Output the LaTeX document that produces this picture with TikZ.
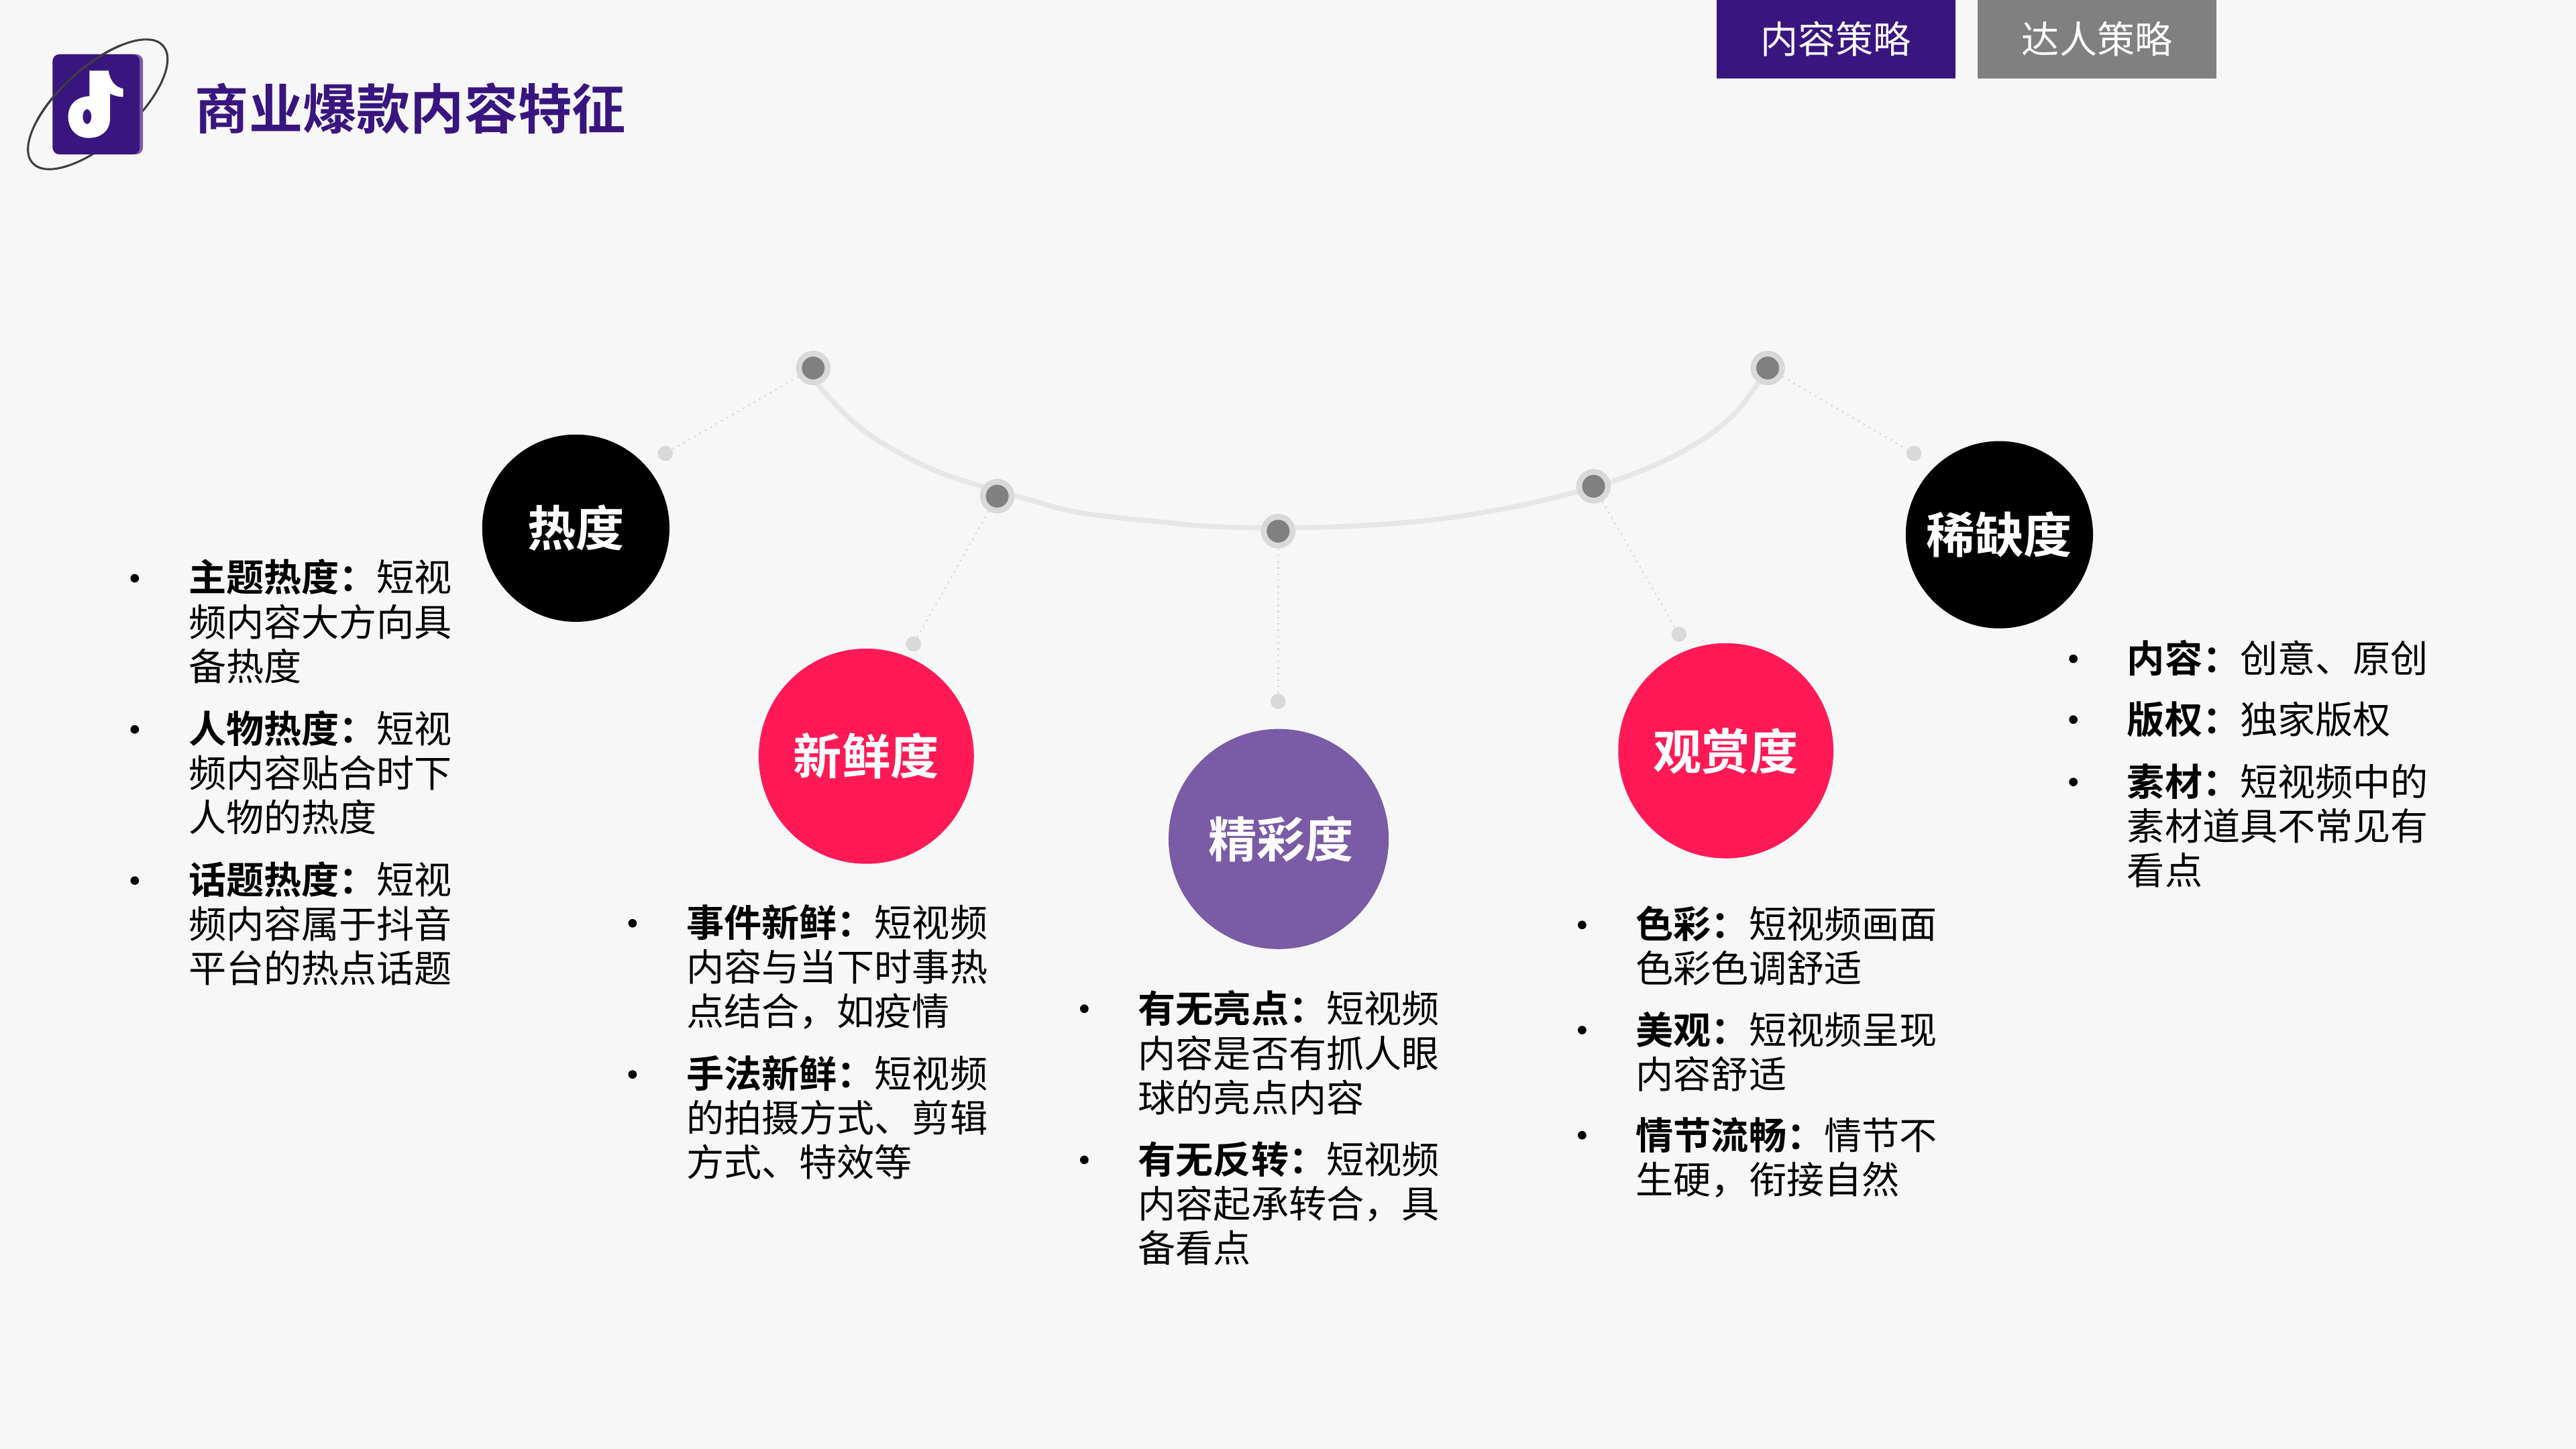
\documentclass[tikz,border=0pt]{standalone}
\usepackage{fontspec}
\setmainfont{Noto Sans CJK SC}[BoldFont=Noto Sans CJK SC Bold]
\usetikzlibrary{shapes.geometric}
\setlength{\lineskiplimit}{-10pt}
\definecolor{paper}{HTML}{F7F7F7}
\definecolor{violet1}{HTML}{39167F}
\definecolor{violet2}{HTML}{7A5BA5}
\definecolor{rose}{HTML}{FF1A55}
\definecolor{ring}{HTML}{D9D9D9}
\definecolor{track}{HTML}{E7E7E7}
\definecolor{core}{HTML}{808080}
\newcommand{\itemhead}[1]{\strut\textbf{#1：}}

\begin{document}
\begin{tikzpicture}[x=0.025cm, y=-0.025cm,
    ball/.style={circle, inner sep=0pt, minimum size=#1*0.025cm, text=white, font=\bfseries\fontsize{21}{25}\selectfont},
    hub/.style={circle, fill=core, draw=ring, line width=2.5pt, minimum size=0.4375cm, inner sep=0pt},
    enddot/.style={circle, fill=ring, minimum size=0.23cm, inner sep=0pt},
    link/.style={ring, dotted, line width=0.7pt},
    bullet/.style={circle, fill=black, minimum size=0.13cm, inner sep=0pt},
    body/.style={anchor=north west, inner sep=0pt, xshift=-0.0125cm, yshift=0.045cm, align=left, font=\fontsize{16.3}{19.2}\selectfont},
    tab/.style={minimum width=3.63cm, minimum height=1.19cm, inner sep=0pt, text=white, font=\fontsize{16.3}{19.2}\selectfont}]
    \useasboundingbox (0, 0) rectangle (1568, 882);
    \fill[paper] (0, 0) rectangle (1568, 882);

    \draw[black!75, line width=0.9pt, rotate around={42:(59.5, 63.5)}] (59.5, 63.5) ellipse [x radius=53.4, y radius=22.6];
    \fill[violet2, rounded corners=3pt] (34, 33) rectangle (87, 94);
    \fill[violet1, rounded corners=3pt] (32, 33) rectangle (85, 94);
    \fill[white] (54.5, 43) -- (66, 43) .. controls (67, 49) and (70, 53) .. (75, 54) -- (75, 59) .. controls (72, 59) and (69, 58) .. (67, 57) -- (67, 72) .. controls (67, 80) and (61, 84) .. (54, 84) .. controls (46, 84) and (41.5, 78) .. (41.5, 71) .. controls (41.5, 64) and (46, 59) .. (54.5, 58.5) -- cycle;
    \fill[violet1] (53, 71) ellipse [x radius=2.6, y radius=4.5];
    \begin{scope}[shift={(59.5, 63.5)}, rotate=42]
        \draw[black!75, line width=0.9pt] (-50:53.4 and 22.6) arc [start angle=-50, end angle=-130, x radius=53.4, y radius=22.6];
    \end{scope}
    \node[anchor=west, inner sep=0pt, text=violet1, font=\bfseries\fontsize{23.3}{28}\selectfont] (title) at (118.5, 66) {商业爆款内容特征};

    \node[tab, fill=violet1] (tabA) at (1117.5, 23.8) {内容策略};
    \node[tab, fill=core] (tabB) at (1276.5, 23.8) {达人策略};

    \draw[track, line width=2.2pt] plot[smooth, tension=0.6] coordinates {(495, 224) (498.6, 235) (527, 263) (566, 285) (597.6, 296) (619.7, 302.2) (657, 312) (710, 318) (735, 320.3) (778, 321.3) (828.7, 319.9) (875.6, 316) (922.5, 308.3) (960, 299.3) (981, 293.3) (1012, 281) (1037.6, 266.7) (1055.8, 251.8) (1069.6, 234) (1076, 224)};

    \node[hub] (h1) at (495, 224) {};
    \node[hub] (h2) at (607, 302) {};
    \node[hub] (h3) at (778, 323.3) {};
    \node[hub] (h4) at (970, 296) {};
    \node[hub] (h5) at (1076, 224) {};
    \node[enddot] (e1) at (405, 276) {};
    \node[enddot] (e2) at (556, 392) {};
    \node[enddot] (e3) at (778, 427) {};
    \node[enddot] (e4) at (1022, 386) {};
    \node[enddot] (e5) at (1165, 276) {};

    \draw[link] (h1) -- (e1);
    \draw[link] (h2) -- (e2);
    \draw[link] (h3) -- (e3);
    \draw[link] (h4) -- (e4);
    \draw[link] (h5) -- (e5);

    \node[ball=114, fill=black] (c1) at (350.5, 321.5) {热度};
    \node[ball=131, fill=rose] (c2) at (527.3, 460.3) {新鲜度};
    \node[ball=134, fill=violet2] (c3) at (778.3, 510.7) {\hspace{2pt}精彩度};
    \node[ball=131, fill=rose] (c4) at (1050.5, 457) {观赏度};
    \node[ball=114, fill=black] (c5) at (1217, 325.5) {稀缺度};

    \node[bullet] (b11) at (82, 352) {};
    \node[body] (t11) at (115, 342) {\itemhead{主题热度}短视\\频内容大方向具\\备热度};
    \node[bullet] (b12) at (82, 444) {};
    \node[body] (t12) at (115, 434) {\itemhead{人物热度}短视\\频内容贴合时下\\人物的热度};
    \node[bullet] (b13) at (82, 536) {};
    \node[body] (t13) at (115, 526) {\itemhead{话题热度}短视\\频内容属于抖音\\平台的热点话题};

    \node[bullet] (b21) at (385, 562) {};
    \node[body] (t21) at (418, 552) {\itemhead{事件新鲜}短视频\\内容与当下时事热\\点结合，如疫情};
    \node[bullet] (b22) at (385, 654) {};
    \node[body] (t22) at (418, 644) {\itemhead{手法新鲜}短视频\\的拍摄方式、剪辑\\方式、特效等};

    \node[bullet] (b31) at (660, 614) {};
    \node[body] (t31) at (693, 604.5) {\itemhead{有无亮点}短视频\\内容是否有抓人眼\\球的亮点内容};
    \node[bullet] (b32) at (660, 706) {};
    \node[body] (t32) at (693, 696.5) {\itemhead{有无反转}短视频\\内容起承转合，具\\备看点};

    \node[bullet] (b41) at (963, 563) {};
    \node[body] (t41) at (996, 553) {\itemhead{色彩}短视频画面\\色彩色调舒适};
    \node[bullet] (b42) at (963, 627) {};
    \node[body] (t42) at (996, 617.5) {\itemhead{美观}短视频呈现\\内容舒适};
    \node[bullet] (b43) at (963, 691) {};
    \node[body] (t43) at (996, 681.5) {\itemhead{情节流畅}情节不\\生硬，衔接自然};

    \node[bullet] (b51) at (1262, 401) {};
    \node[body] (t51) at (1295, 391) {\itemhead{内容}创意、原创};
    \node[bullet] (b52) at (1262, 438) {};
    \node[body] (t52) at (1295, 428.5) {\itemhead{版权}独家版权};
    \node[bullet] (b53) at (1262, 476) {};
    \node[body] (t53) at (1295, 466.5) {\itemhead{素材}短视频中的\\素材道具不常见有\\看点};
\end{tikzpicture}
\end{document}
